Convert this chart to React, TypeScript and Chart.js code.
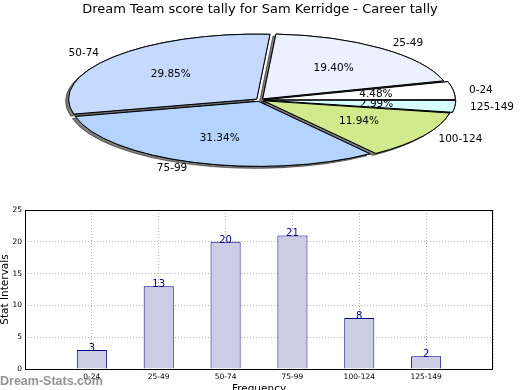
import React, { useEffect, useRef } from 'react';
import { Chart, registerables } from 'chart.js';
Chart.register(...registerables);

const chartTitle = 'Dream Team score tally for Sam Kerridge - Career tally';
const categories = ['0-24', '25-49', '50-74', '75-99', '100-124', '125-149'];
const counts = [3, 13, 20, 21, 8, 2];
const sliceColors = ['#ffffff', '#ebf1ff', '#c6d9ff', '#b4d4ff', '#d0ea8c', '#d8ffff'];
const yTicks = [0, 5, 10, 15, 20, 25];
const xTitle = 'Frequency';
const yTitle = 'Stat Intervals';
const watermark = 'Dream-Stats.com';

const FONT = "'DejaVu Sans', sans-serif";
const R = 188;
const S = 0.345;
const OFF = 17;

export default function App() {
  const pieRef = useRef<HTMLCanvasElement>(null);
  const barRef = useRef<HTMLCanvasElement>(null);

  useEffect(() => {
    Chart.defaults.font.family = FONT;
    const total = counts.reduce((a, b) => a + b, 0);

    const squash = {
      id: 'squash',
      beforeDatasetsDraw(chart: any) {
        const ctx = chart.ctx as CanvasRenderingContext2D;
        const meta = chart.getDatasetMeta(0);
        const cy = meta.data[0].y;
        const base = ctx.getTransform();
        ctx.save();
        ctx.translate(0, cy);
        ctx.scale(1, S);
        ctx.translate(0, -cy);
        const orig = CanvasRenderingContext2D.prototype.stroke;
        (ctx as any).stroke = function (...args: any[]) {
          this.save();
          this.setTransform(base);
          orig.apply(this, args);
          this.restore();
        };
        ctx.save();
        ctx.shadowColor = 'rgba(0,0,0,0.5)';
        ctx.shadowOffsetX = -3;
        ctx.shadowOffsetY = 2;
        ctx.shadowBlur = 0;
        meta.data.forEach((el: any) => el.draw(ctx));
        ctx.restore();
      },
      afterDatasetsDraw(chart: any) {
        const ctx = chart.ctx as CanvasRenderingContext2D;
        delete (ctx as any).stroke;
        ctx.restore();
        const meta = chart.getDatasetMeta(0);
        const ds = chart.data.datasets[0];
        ctx.save();
        ctx.fillStyle = '#000';
        ctx.font = `10.5px ${FONT}`;
        ctx.textBaseline = 'middle';
        meta.data.forEach((el: any, i: number) => {
          const p = el.getProps(['startAngle', 'endAngle', 'x', 'y', 'outerRadius'], true);
          const mid = (p.startAngle + p.endAngle) / 2;
          const c = Math.cos(mid), s = Math.sin(mid);
          const d = OFF / 4;
          const lx = p.x + c * (d + 1.1 * p.outerRadius);
          const ly = p.y + s * (d + 1.1 * p.outerRadius) * S;
          ctx.textAlign = c > 0 ? 'left' : 'right';
          ctx.fillText(String(chart.data.labels[i]), lx, ly);
          const px = p.x + c * (d + 0.6 * p.outerRadius);
          const py = p.y + s * (d + 0.6 * p.outerRadius) * S;
          ctx.textAlign = 'center';
          ctx.fillText(((ds.data[i] / total) * 100).toFixed(2) + '%', px, py);
        });
        ctx.restore();
      },
      afterDraw(chart: any) {
        const ctx = chart.ctx as CanvasRenderingContext2D;
        ctx.save();
        ctx.fillStyle = '#000';
        ctx.font = `13px ${FONT}`;
        ctx.textAlign = 'center';
        ctx.textBaseline = 'middle';
        ctx.fillText(chartTitle, 260, 10);
        ctx.restore();
      },
    };

    const pie = new Chart(pieRef.current!, {
      type: 'pie',
      data: {
        labels: [...categories].reverse(),
        datasets: [
          {
            data: [...counts].reverse(),
            backgroundColor: [...sliceColors].reverse(),
            borderColor: '#000',
            borderWidth: 1,
            offset: OFF,
            hoverOffset: 0,
            radius: R,
            clip: false,
          } as any,
        ],
      },
      options: {
        animation: false,
        responsive: false,
        events: [],
        rotation: 90,
        radius: R,
        layout: { padding: 0 },
        plugins: { legend: { display: false }, tooltip: { enabled: false }, title: { display: false } },
      } as any,
      plugins: [squash],
    });

    const frame = {
      id: 'frame',
      afterDatasetsDraw(chart: any) {
        const { ctx, chartArea: a } = chart;
        const meta = chart.getDatasetMeta(0);
        ctx.save();
        ctx.strokeStyle = '#000';
        ctx.lineWidth = 1;
        ctx.strokeRect(a.left + 0.5, a.top + 0.5, a.right - a.left - 1, a.bottom - a.top);
        ctx.fillStyle = '#000080';
        ctx.font = `10px ${FONT}`;
        ctx.textAlign = 'center';
        ctx.textBaseline = 'alphabetic';
        meta.data.forEach((el: any, i: number) => {
          const v = chart.data.datasets[0].data[i];
          if (v == null) return;
          ctx.fillText(String(v), el.x, el.y + 1);
        });
        ctx.restore();
      },
      afterDraw(chart: any) {
        const { ctx } = chart;
        ctx.save();
        ctx.fillStyle = 'rgba(120,120,120,0.8)';
        ctx.font = `bold 12.5px 'Liberation Sans', sans-serif`;
        ctx.textAlign = 'left';
        ctx.textBaseline = 'alphabetic';
        ctx.fillText(watermark, 0, 185);
        ctx.restore();
      },
    };

    const gridCommon = { color: '#b8b8b8', lineWidth: 1, drawTicks: false };
    const bar = new Chart(barRef.current!, {
      type: 'bar',
      data: {
        labels: ['', ...categories, ''],
        datasets: [
          {
            data: [null, ...counts, null],
            backgroundColor: '#ccccE5',
            borderColor: '#000080',
            borderWidth: 1,
            barPercentage: 0.45,
            categoryPercentage: 1,
          } as any,
        ],
      },
      options: {
        animation: false,
        responsive: false,
        events: [],
        layout: { padding: { top: 10, right: 27, bottom: 0, left: 0 } },
        plugins: { legend: { display: false }, tooltip: { enabled: false } },
        scales: {
          x: {
            type: 'category',
            offset: false,
            grid: { ...gridCommon, offset: false },
            border: { display: false, dash: [1, 2] },
            ticks: { font: { size: 7.5 }, color: '#000', padding: 4, maxRotation: 0, autoSkip: false },
            title: { display: true, text: xTitle, font: { size: 10.5 }, color: '#000', padding: { top: 0, bottom: -6 } },
            afterFit: (s: any) => {
              s.height = 21;
            },
          },
          y: {
            min: 0,
            max: 25,
            afterBuildTicks: (s: any) => {
              s.ticks = yTicks.map((v) => ({ value: v }));
            },
            grid: gridCommon,
            border: { display: false, dash: [1, 2] },
            ticks: { font: { size: 7.5 }, color: '#000', padding: 3 },
            title: { display: true, text: yTitle, font: { size: 10.5, lineHeight: 1 }, color: '#000', padding: 0 },
            afterFit: (s: any) => {
              s.width = 25;
            },
          },
        },
      } as any,
      plugins: [frame],
    });

    return () => {
      pie.destroy();
      bar.destroy();
    };
  }, []);

  return (
    <div style={{ position: 'fixed', left: 0, top: 0, width: 520, height: 390, background: '#fff' }}>
      <canvas ref={pieRef} width={520} height={200} style={{ position: 'absolute', left: 0, top: 0, display: 'block' }} />
      <canvas ref={barRef} width={520} height={190} style={{ position: 'absolute', left: 0, top: 200, display: 'block' }} />
    </div>
  );
}
